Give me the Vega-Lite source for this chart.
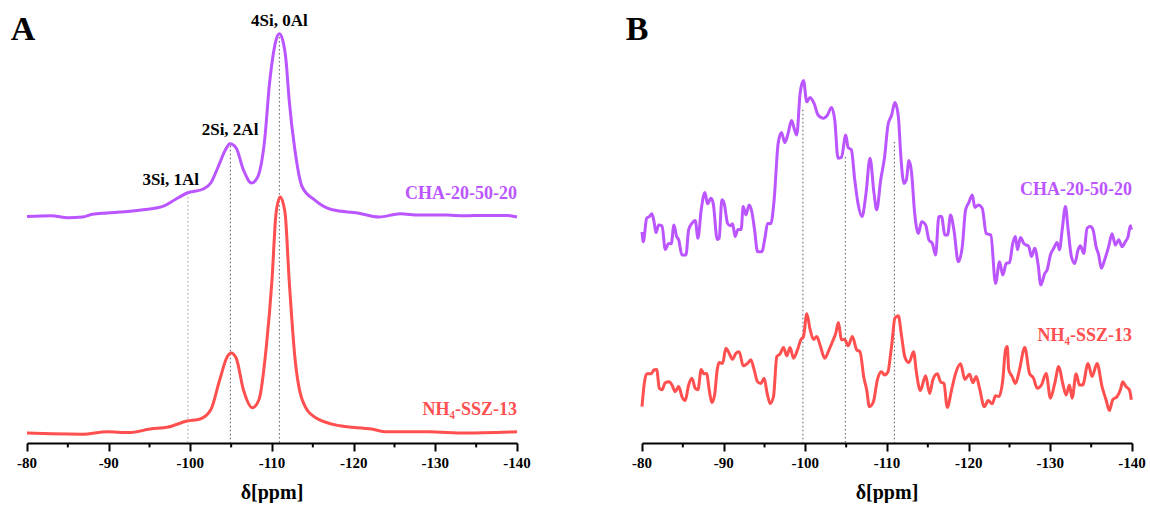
{
  "$schema": "https://vega.github.io/schema/vega-lite/v6.json",
  "padding": {"left": 10, "top": 3, "right": 0, "bottom": 0},
  "spacing": 125,
  "bounds": "flush",
  "config": {
    "view": {"stroke": null},
    "font": "Liberation Serif",
    "axisY": {"disable": true},
    "axis": {"tickWidth": 2, "tickColor": "black", "tickSize": 8, "domainColor": "black", "domainWidth": 2, "grid": false}
  },
  "datasets": {
    "minor": [{"ppm": -85}, {"ppm": -95}, {"ppm": -105}, {"ppm": -115}, {"ppm": -125}, {"ppm": -135}],
    "ticklabels": [{"ppm": -80, "label": "-80"}, {"ppm": -90, "label": "-90"}, {"ppm": -100, "label": "-100"}, {"ppm": -110, "label": "-110"}, {"ppm": -120, "label": "-120"}, {"ppm": -130, "label": "-130"}, {"ppm": -140, "label": "-140"}],
    "axistitle": [{"ppm": -110, "label": "δ[ppm]"}],
    "specA": [
      {"sample":"CHA-20-50-20","ppm":-80,"intensity":56.6},{"sample":"CHA-20-50-20","ppm":-83,"intensity":56.8},{"sample":"CHA-20-50-20","ppm":-85,"intensity":56.3},{"sample":"CHA-20-50-20","ppm":-86.8,"intensity":56.5},{"sample":"CHA-20-50-20","ppm":-88,"intensity":57.2},{"sample":"CHA-20-50-20","ppm":-89.8,"intensity":57.5},{"sample":"CHA-20-50-20","ppm":-92,"intensity":57.8},{"sample":"CHA-20-50-20","ppm":-94.2,"intensity":58.3},{"sample":"CHA-20-50-20","ppm":-96.8,"intensity":59.3},{"sample":"CHA-20-50-20","ppm":-98.1,"intensity":60.8},{"sample":"CHA-20-50-20","ppm":-99.6,"intensity":62.5},{"sample":"CHA-20-50-20","ppm":-101.6,"intensity":63.5},{"sample":"CHA-20-50-20","ppm":-102.5,"intensity":65.0},{"sample":"CHA-20-50-20","ppm":-103.4,"intensity":69.0},{"sample":"CHA-20-50-20","ppm":-104.3,"intensity":73.3},{"sample":"CHA-20-50-20","ppm":-104.85,"intensity":74.8},{"sample":"CHA-20-50-20","ppm":-105.6,"intensity":73.8},{"sample":"CHA-20-50-20","ppm":-106.5,"intensity":68.3},{"sample":"CHA-20-50-20","ppm":-107.5,"intensity":65.0},{"sample":"CHA-20-50-20","ppm":-108.2,"intensity":66.3},{"sample":"CHA-20-50-20","ppm":-109.1,"intensity":75.8},{"sample":"CHA-20-50-20","ppm":-109.7,"intensity":90.0},{"sample":"CHA-20-50-20","ppm":-110.1,"intensity":96.5},{"sample":"CHA-20-50-20","ppm":-110.5,"intensity":100.8},{"sample":"CHA-20-50-20","ppm":-110.9,"intensity":102.3},{"sample":"CHA-20-50-20","ppm":-111.3,"intensity":100.8},{"sample":"CHA-20-50-20","ppm":-111.7,"intensity":96.0},{"sample":"CHA-20-50-20","ppm":-112.1,"intensity":85.8},{"sample":"CHA-20-50-20","ppm":-112.8,"intensity":73.3},{"sample":"CHA-20-50-20","ppm":-113.7,"intensity":64.0},{"sample":"CHA-20-50-20","ppm":-115.2,"intensity":60.8},{"sample":"CHA-20-50-20","ppm":-117.4,"intensity":58.3},{"sample":"CHA-20-50-20","ppm":-120.5,"intensity":57.5},{"sample":"CHA-20-50-20","ppm":-123.1,"intensity":56.5},{"sample":"CHA-20-50-20","ppm":-125.7,"intensity":57.3},{"sample":"CHA-20-50-20","ppm":-128,"intensity":57.0},{"sample":"CHA-20-50-20","ppm":-131.4,"intensity":57.0},{"sample":"CHA-20-50-20","ppm":-133.6,"intensity":56.8},{"sample":"CHA-20-50-20","ppm":-136,"intensity":56.9},{"sample":"CHA-20-50-20","ppm":-138.8,"intensity":56.9},{"sample":"CHA-20-50-20","ppm":-140,"intensity":56.5},
      {"sample":"NH₄-SSZ-13","ppm":-80,"intensity":2.5},{"sample":"NH₄-SSZ-13","ppm":-83,"intensity":2.3},{"sample":"NH₄-SSZ-13","ppm":-86.8,"intensity":2.2},{"sample":"NH₄-SSZ-13","ppm":-89.8,"intensity":2.8},{"sample":"NH₄-SSZ-13","ppm":-92.5,"intensity":2.6},{"sample":"NH₄-SSZ-13","ppm":-95.1,"intensity":3.5},{"sample":"NH₄-SSZ-13","ppm":-97.3,"intensity":4.0},{"sample":"NH₄-SSZ-13","ppm":-99.6,"intensity":5.5},{"sample":"NH₄-SSZ-13","ppm":-101.2,"intensity":6.0},{"sample":"NH₄-SSZ-13","ppm":-102.5,"intensity":8.3},{"sample":"NH₄-SSZ-13","ppm":-103.6,"intensity":15.8},{"sample":"NH₄-SSZ-13","ppm":-104.5,"intensity":21.5},{"sample":"NH₄-SSZ-13","ppm":-105.0,"intensity":22.5},{"sample":"NH₄-SSZ-13","ppm":-105.6,"intensity":21.3},{"sample":"NH₄-SSZ-13","ppm":-106.5,"intensity":13.3},{"sample":"NH₄-SSZ-13","ppm":-107.6,"intensity":8.8},{"sample":"NH₄-SSZ-13","ppm":-108.4,"intensity":10.8},{"sample":"NH₄-SSZ-13","ppm":-109.3,"intensity":24.0},{"sample":"NH₄-SSZ-13","ppm":-110.0,"intensity":40.8},{"sample":"NH₄-SSZ-13","ppm":-110.5,"intensity":57.5},{"sample":"NH₄-SSZ-13","ppm":-111.0,"intensity":61.5},{"sample":"NH₄-SSZ-13","ppm":-111.6,"intensity":57.5},{"sample":"NH₄-SSZ-13","ppm":-112.1,"intensity":40.8},{"sample":"NH₄-SSZ-13","ppm":-112.8,"intensity":21.5},{"sample":"NH₄-SSZ-13","ppm":-113.7,"intensity":10.8},{"sample":"NH₄-SSZ-13","ppm":-115.2,"intensity":6.5},{"sample":"NH₄-SSZ-13","ppm":-118.3,"intensity":4.3},{"sample":"NH₄-SSZ-13","ppm":-122.2,"intensity":3.5},{"sample":"NH₄-SSZ-13","ppm":-124,"intensity":2.8},{"sample":"NH₄-SSZ-13","ppm":-129.2,"intensity":2.8},{"sample":"NH₄-SSZ-13","ppm":-133.6,"intensity":2.5},{"sample":"NH₄-SSZ-13","ppm":-140,"intensity":2.8}
    ],
    "specB": [
      {"sample":"CHA-20-50-20","ppm":-80.00,"intensity":52.8},{"sample":"CHA-20-50-20","ppm":-80.16,"intensity":50.3},{"sample":"CHA-20-50-20","ppm":-80.57,"intensity":56.2},{"sample":"CHA-20-50-20","ppm":-80.89,"intensity":56.6},{"sample":"CHA-20-50-20","ppm":-81.22,"intensity":57.3},{"sample":"CHA-20-50-20","ppm":-81.50,"intensity":55.0},{"sample":"CHA-20-50-20","ppm":-81.71,"intensity":52.6},{"sample":"CHA-20-50-20","ppm":-82.04,"intensity":54.5},{"sample":"CHA-20-50-20","ppm":-82.45,"intensity":54.3},{"sample":"CHA-20-50-20","ppm":-82.85,"intensity":48.4},{"sample":"CHA-20-50-20","ppm":-83.26,"intensity":49.9},{"sample":"CHA-20-50-20","ppm":-83.58,"intensity":49.8},{"sample":"CHA-20-50-20","ppm":-83.91,"intensity":54.5},{"sample":"CHA-20-50-20","ppm":-84.24,"intensity":51.6},{"sample":"CHA-20-50-20","ppm":-84.49,"intensity":50.8},{"sample":"CHA-20-50-20","ppm":-84.89,"intensity":47.0},{"sample":"CHA-20-50-20","ppm":-85.38,"intensity":47.0},{"sample":"CHA-20-50-20","ppm":-85.71,"intensity":53.3},{"sample":"CHA-20-50-20","ppm":-86.11,"intensity":54.9},{"sample":"CHA-20-50-20","ppm":-86.52,"intensity":55.6},{"sample":"CHA-20-50-20","ppm":-86.85,"intensity":51.2},{"sample":"CHA-20-50-20","ppm":-87.25,"intensity":58.3},{"sample":"CHA-20-50-20","ppm":-87.70,"intensity":62.6},{"sample":"CHA-20-50-20","ppm":-88.03,"intensity":59.8},{"sample":"CHA-20-50-20","ppm":-88.44,"intensity":61.2},{"sample":"CHA-20-50-20","ppm":-88.72,"intensity":59.9},{"sample":"CHA-20-50-20","ppm":-89.21,"intensity":50.9},{"sample":"CHA-20-50-20","ppm":-89.45,"intensity":51.2},{"sample":"CHA-20-50-20","ppm":-89.78,"intensity":60.8},{"sample":"CHA-20-50-20","ppm":-90.06,"intensity":59.9},{"sample":"CHA-20-50-20","ppm":-90.48,"intensity":54.9},{"sample":"CHA-20-50-20","ppm":-90.80,"intensity":54.3},{"sample":"CHA-20-50-20","ppm":-91.09,"intensity":54.8},{"sample":"CHA-20-50-20","ppm":-91.41,"intensity":51.6},{"sample":"CHA-20-50-20","ppm":-91.74,"intensity":53.4},{"sample":"CHA-20-50-20","ppm":-92.14,"intensity":53.4},{"sample":"CHA-20-50-20","ppm":-92.39,"intensity":59.1},{"sample":"CHA-20-50-20","ppm":-92.72,"intensity":57.0},{"sample":"CHA-20-50-20","ppm":-93.12,"intensity":59.5},{"sample":"CHA-20-50-20","ppm":-93.45,"intensity":57.8},{"sample":"CHA-20-50-20","ppm":-93.78,"intensity":53.3},{"sample":"CHA-20-50-20","ppm":-94.15,"intensity":47.8},{"sample":"CHA-20-50-20","ppm":-94.67,"intensity":47.8},{"sample":"CHA-20-50-20","ppm":-95.08,"intensity":51.6},{"sample":"CHA-20-50-20","ppm":-95.37,"intensity":54.9},{"sample":"CHA-20-50-20","ppm":-95.77,"intensity":54.8},{"sample":"CHA-20-50-20","ppm":-96.18,"intensity":60.8},{"sample":"CHA-20-50-20","ppm":-96.67,"intensity":74.9},{"sample":"CHA-20-50-20","ppm":-97.08,"intensity":77.6},{"sample":"CHA-20-50-20","ppm":-97.49,"intensity":75.1},{"sample":"CHA-20-50-20","ppm":-97.89,"intensity":77.4},{"sample":"CHA-20-50-20","ppm":-98.31,"intensity":80.6},{"sample":"CHA-20-50-20","ppm":-98.62,"intensity":78.7},{"sample":"CHA-20-50-20","ppm":-98.95,"intensity":77.0},{"sample":"CHA-20-50-20","ppm":-99.36,"intensity":87.4},{"sample":"CHA-20-50-20","ppm":-99.77,"intensity":90.6},{"sample":"CHA-20-50-20","ppm":-100.18,"intensity":85.3},{"sample":"CHA-20-50-20","ppm":-100.58,"intensity":86.4},{"sample":"CHA-20-50-20","ppm":-101.07,"intensity":84.9},{"sample":"CHA-20-50-20","ppm":-101.56,"intensity":82.0},{"sample":"CHA-20-50-20","ppm":-102.22,"intensity":81.2},{"sample":"CHA-20-50-20","ppm":-102.71,"intensity":82.0},{"sample":"CHA-20-50-20","ppm":-103.20,"intensity":83.9},{"sample":"CHA-20-50-20","ppm":-103.60,"intensity":80.8},{"sample":"CHA-20-50-20","ppm":-104.00,"intensity":71.2},{"sample":"CHA-20-50-20","ppm":-104.42,"intensity":71.4},{"sample":"CHA-20-50-20","ppm":-104.95,"intensity":77.0},{"sample":"CHA-20-50-20","ppm":-105.23,"intensity":73.9},{"sample":"CHA-20-50-20","ppm":-105.64,"intensity":73.3},{"sample":"CHA-20-50-20","ppm":-106.05,"intensity":65.8},{"sample":"CHA-20-50-20","ppm":-106.45,"intensity":59.9},{"sample":"CHA-20-50-20","ppm":-106.94,"intensity":56.6},{"sample":"CHA-20-50-20","ppm":-107.43,"intensity":62.4},{"sample":"CHA-20-50-20","ppm":-107.92,"intensity":71.2},{"sample":"CHA-20-50-20","ppm":-108.41,"intensity":62.4},{"sample":"CHA-20-50-20","ppm":-108.74,"intensity":58.3},{"sample":"CHA-20-50-20","ppm":-109.23,"intensity":65.8},{"sample":"CHA-20-50-20","ppm":-109.71,"intensity":71.6},{"sample":"CHA-20-50-20","ppm":-110.12,"intensity":79.5},{"sample":"CHA-20-50-20","ppm":-110.57,"intensity":82.0},{"sample":"CHA-20-50-20","ppm":-110.97,"intensity":85.1},{"sample":"CHA-20-50-20","ppm":-111.39,"intensity":81.6},{"sample":"CHA-20-50-20","ppm":-111.67,"intensity":72.4},{"sample":"CHA-20-50-20","ppm":-112.07,"intensity":64.9},{"sample":"CHA-20-50-20","ppm":-112.37,"intensity":65.8},{"sample":"CHA-20-50-20","ppm":-112.69,"intensity":70.6},{"sample":"CHA-20-50-20","ppm":-113.02,"intensity":67.4},{"sample":"CHA-20-50-20","ppm":-113.35,"intensity":58.3},{"sample":"CHA-20-50-20","ppm":-113.84,"intensity":52.4},{"sample":"CHA-20-50-20","ppm":-114.24,"intensity":55.3},{"sample":"CHA-20-50-20","ppm":-114.73,"intensity":54.5},{"sample":"CHA-20-50-20","ppm":-115.13,"intensity":50.8},{"sample":"CHA-20-50-20","ppm":-115.55,"intensity":49.9},{"sample":"CHA-20-50-20","ppm":-115.95,"intensity":47.0},{"sample":"CHA-20-50-20","ppm":-116.35,"intensity":56.6},{"sample":"CHA-20-50-20","ppm":-116.68,"intensity":56.6},{"sample":"CHA-20-50-20","ppm":-117.09,"intensity":52.0},{"sample":"CHA-20-50-20","ppm":-117.42,"intensity":52.0},{"sample":"CHA-20-50-20","ppm":-117.78,"intensity":57.0},{"sample":"CHA-20-50-20","ppm":-118.19,"intensity":53.3},{"sample":"CHA-20-50-20","ppm":-118.73,"intensity":45.3},{"sample":"CHA-20-50-20","ppm":-119.22,"intensity":49.1},{"sample":"CHA-20-50-20","ppm":-119.62,"intensity":58.3},{"sample":"CHA-20-50-20","ppm":-120.02,"intensity":60.1},{"sample":"CHA-20-50-20","ppm":-120.44,"intensity":62.0},{"sample":"CHA-20-50-20","ppm":-120.76,"intensity":58.9},{"sample":"CHA-20-50-20","ppm":-121.17,"intensity":59.5},{"sample":"CHA-20-50-20","ppm":-121.66,"intensity":58.7},{"sample":"CHA-20-50-20","ppm":-122.15,"intensity":52.4},{"sample":"CHA-20-50-20","ppm":-122.71,"intensity":52.0},{"sample":"CHA-20-50-20","ppm":-123.29,"intensity":39.9},{"sample":"CHA-20-50-20","ppm":-123.78,"intensity":45.3},{"sample":"CHA-20-50-20","ppm":-124.18,"intensity":42.0},{"sample":"CHA-20-50-20","ppm":-124.60,"intensity":44.9},{"sample":"CHA-20-50-20","ppm":-125.00,"intensity":45.1},{"sample":"CHA-20-50-20","ppm":-125.40,"intensity":49.9},{"sample":"CHA-20-50-20","ppm":-125.73,"intensity":51.6},{"sample":"CHA-20-50-20","ppm":-125.98,"intensity":48.3},{"sample":"CHA-20-50-20","ppm":-126.34,"intensity":51.4},{"sample":"CHA-20-50-20","ppm":-126.75,"intensity":49.9},{"sample":"CHA-20-50-20","ppm":-127.36,"intensity":49.1},{"sample":"CHA-20-50-20","ppm":-127.69,"intensity":46.6},{"sample":"CHA-20-50-20","ppm":-128.09,"intensity":48.7},{"sample":"CHA-20-50-20","ppm":-128.51,"intensity":44.5},{"sample":"CHA-20-50-20","ppm":-128.83,"intensity":39.5},{"sample":"CHA-20-50-20","ppm":-129.32,"intensity":42.4},{"sample":"CHA-20-50-20","ppm":-129.61,"intensity":43.3},{"sample":"CHA-20-50-20","ppm":-130.01,"intensity":47.0},{"sample":"CHA-20-50-20","ppm":-130.42,"intensity":48.7},{"sample":"CHA-20-50-20","ppm":-130.83,"intensity":50.1},{"sample":"CHA-20-50-20","ppm":-131.12,"intensity":48.3},{"sample":"CHA-20-50-20","ppm":-131.45,"intensity":53.3},{"sample":"CHA-20-50-20","ppm":-131.85,"intensity":59.1},{"sample":"CHA-20-50-20","ppm":-132.18,"intensity":53.3},{"sample":"CHA-20-50-20","ppm":-132.58,"intensity":46.6},{"sample":"CHA-20-50-20","ppm":-132.99,"intensity":44.9},{"sample":"CHA-20-50-20","ppm":-133.40,"intensity":48.3},{"sample":"CHA-20-50-20","ppm":-133.68,"intensity":49.3},{"sample":"CHA-20-50-20","ppm":-134.09,"intensity":47.4},{"sample":"CHA-20-50-20","ppm":-134.50,"intensity":53.7},{"sample":"CHA-20-50-20","ppm":-134.90,"intensity":54.1},{"sample":"CHA-20-50-20","ppm":-135.23,"intensity":53.3},{"sample":"CHA-20-50-20","ppm":-135.60,"intensity":49.1},{"sample":"CHA-20-50-20","ppm":-135.92,"intensity":47.0},{"sample":"CHA-20-50-20","ppm":-136.25,"intensity":43.7},{"sample":"CHA-20-50-20","ppm":-136.65,"intensity":45.8},{"sample":"CHA-20-50-20","ppm":-137.14,"intensity":49.1},{"sample":"CHA-20-50-20","ppm":-137.56,"intensity":52.3},{"sample":"CHA-20-50-20","ppm":-137.96,"intensity":49.5},{"sample":"CHA-20-50-20","ppm":-138.37,"intensity":50.8},{"sample":"CHA-20-50-20","ppm":-138.78,"intensity":49.1},{"sample":"CHA-20-50-20","ppm":-139.18,"intensity":50.3},{"sample":"CHA-20-50-20","ppm":-139.52,"intensity":51.6},{"sample":"CHA-20-50-20","ppm":-139.80,"intensity":54.3},{"sample":"CHA-20-50-20","ppm":-139.92,"intensity":53.3},
      {"sample":"NH₄-SSZ-13","ppm":-80.00,"intensity":9.1},{"sample":"NH₄-SSZ-13","ppm":-80.28,"intensity":14.9},{"sample":"NH₄-SSZ-13","ppm":-80.57,"intensity":17.3},{"sample":"NH₄-SSZ-13","ppm":-81.10,"intensity":17.3},{"sample":"NH₄-SSZ-13","ppm":-81.50,"intensity":18.3},{"sample":"NH₄-SSZ-13","ppm":-81.80,"intensity":18.4},{"sample":"NH₄-SSZ-13","ppm":-82.12,"intensity":13.7},{"sample":"NH₄-SSZ-13","ppm":-82.45,"intensity":13.3},{"sample":"NH₄-SSZ-13","ppm":-82.85,"intensity":15.1},{"sample":"NH₄-SSZ-13","ppm":-83.34,"intensity":15.3},{"sample":"NH₄-SSZ-13","ppm":-83.67,"intensity":14.5},{"sample":"NH₄-SSZ-13","ppm":-84.07,"intensity":12.8},{"sample":"NH₄-SSZ-13","ppm":-84.49,"intensity":14.1},{"sample":"NH₄-SSZ-13","ppm":-84.89,"intensity":11.6},{"sample":"NH₄-SSZ-13","ppm":-85.29,"intensity":10.6},{"sample":"NH₄-SSZ-13","ppm":-85.71,"intensity":14.5},{"sample":"NH₄-SSZ-13","ppm":-86.11,"intensity":16.2},{"sample":"NH₄-SSZ-13","ppm":-86.52,"intensity":13.7},{"sample":"NH₄-SSZ-13","ppm":-86.85,"intensity":13.3},{"sample":"NH₄-SSZ-13","ppm":-87.25,"intensity":18.4},{"sample":"NH₄-SSZ-13","ppm":-87.58,"intensity":17.3},{"sample":"NH₄-SSZ-13","ppm":-87.91,"intensity":17.4},{"sample":"NH₄-SSZ-13","ppm":-88.23,"intensity":13.3},{"sample":"NH₄-SSZ-13","ppm":-88.56,"intensity":10.1},{"sample":"NH₄-SSZ-13","ppm":-88.89,"intensity":12.0},{"sample":"NH₄-SSZ-13","ppm":-89.21,"intensity":18.3},{"sample":"NH₄-SSZ-13","ppm":-89.45,"intensity":20.1},{"sample":"NH₄-SSZ-13","ppm":-89.87,"intensity":19.9},{"sample":"NH₄-SSZ-13","ppm":-90.27,"intensity":23.7},{"sample":"NH₄-SSZ-13","ppm":-90.68,"intensity":22.4},{"sample":"NH₄-SSZ-13","ppm":-91.09,"intensity":20.9},{"sample":"NH₄-SSZ-13","ppm":-91.49,"intensity":22.4},{"sample":"NH₄-SSZ-13","ppm":-91.90,"intensity":22.8},{"sample":"NH₄-SSZ-13","ppm":-92.39,"intensity":19.3},{"sample":"NH₄-SSZ-13","ppm":-92.93,"intensity":19.9},{"sample":"NH₄-SSZ-13","ppm":-93.33,"intensity":20.8},{"sample":"NH₄-SSZ-13","ppm":-93.73,"intensity":18.3},{"sample":"NH₄-SSZ-13","ppm":-94.15,"intensity":15.3},{"sample":"NH₄-SSZ-13","ppm":-94.55,"intensity":14.9},{"sample":"NH₄-SSZ-13","ppm":-94.96,"intensity":16.2},{"sample":"NH₄-SSZ-13","ppm":-95.29,"intensity":12.8},{"sample":"NH₄-SSZ-13","ppm":-95.69,"intensity":9.9},{"sample":"NH₄-SSZ-13","ppm":-96.10,"intensity":11.6},{"sample":"NH₄-SSZ-13","ppm":-96.51,"intensity":21.6},{"sample":"NH₄-SSZ-13","ppm":-96.91,"intensity":22.3},{"sample":"NH₄-SSZ-13","ppm":-97.33,"intensity":23.9},{"sample":"NH₄-SSZ-13","ppm":-97.73,"intensity":21.8},{"sample":"NH₄-SSZ-13","ppm":-98.13,"intensity":23.9},{"sample":"NH₄-SSZ-13","ppm":-98.55,"intensity":21.2},{"sample":"NH₄-SSZ-13","ppm":-99.04,"intensity":23.3},{"sample":"NH₄-SSZ-13","ppm":-99.44,"intensity":25.8},{"sample":"NH₄-SSZ-13","ppm":-99.77,"intensity":26.6},{"sample":"NH₄-SSZ-13","ppm":-100.18,"intensity":32.3},{"sample":"NH₄-SSZ-13","ppm":-100.58,"intensity":28.4},{"sample":"NH₄-SSZ-13","ppm":-101.00,"intensity":25.9},{"sample":"NH₄-SSZ-13","ppm":-101.40,"intensity":26.6},{"sample":"NH₄-SSZ-13","ppm":-101.80,"intensity":24.5},{"sample":"NH₄-SSZ-13","ppm":-102.38,"intensity":21.2},{"sample":"NH₄-SSZ-13","ppm":-102.90,"intensity":23.3},{"sample":"NH₄-SSZ-13","ppm":-103.32,"intensity":25.3},{"sample":"NH₄-SSZ-13","ppm":-103.72,"intensity":27.4},{"sample":"NH₄-SSZ-13","ppm":-104.05,"intensity":30.1},{"sample":"NH₄-SSZ-13","ppm":-104.42,"intensity":25.8},{"sample":"NH₄-SSZ-13","ppm":-104.82,"intensity":25.9},{"sample":"NH₄-SSZ-13","ppm":-105.23,"intensity":24.3},{"sample":"NH₄-SSZ-13","ppm":-105.76,"intensity":26.6},{"sample":"NH₄-SSZ-13","ppm":-106.29,"intensity":23.3},{"sample":"NH₄-SSZ-13","ppm":-106.69,"intensity":22.8},{"sample":"NH₄-SSZ-13","ppm":-107.18,"intensity":16.2},{"sample":"NH₄-SSZ-13","ppm":-107.51,"intensity":13.3},{"sample":"NH₄-SSZ-13","ppm":-107.84,"intensity":9.1},{"sample":"NH₄-SSZ-13","ppm":-108.33,"intensity":10.3},{"sample":"NH₄-SSZ-13","ppm":-108.82,"intensity":15.8},{"sample":"NH₄-SSZ-13","ppm":-109.31,"intensity":17.8},{"sample":"NH₄-SSZ-13","ppm":-109.71,"intensity":17.0},{"sample":"NH₄-SSZ-13","ppm":-110.12,"intensity":17.8},{"sample":"NH₄-SSZ-13","ppm":-110.45,"intensity":22.4},{"sample":"NH₄-SSZ-13","ppm":-110.60,"intensity":24.9},{"sample":"NH₄-SSZ-13","ppm":-110.97,"intensity":31.2},{"sample":"NH₄-SSZ-13","ppm":-111.39,"intensity":31.8},{"sample":"NH₄-SSZ-13","ppm":-111.79,"intensity":26.6},{"sample":"NH₄-SSZ-13","ppm":-112.20,"intensity":21.4},{"sample":"NH₄-SSZ-13","ppm":-112.69,"intensity":20.1},{"sample":"NH₄-SSZ-13","ppm":-113.26,"intensity":22.8},{"sample":"NH₄-SSZ-13","ppm":-113.59,"intensity":17.8},{"sample":"NH₄-SSZ-13","ppm":-114.08,"intensity":13.1},{"sample":"NH₄-SSZ-13","ppm":-114.73,"intensity":16.8},{"sample":"NH₄-SSZ-13","ppm":-115.22,"intensity":12.4},{"sample":"NH₄-SSZ-13","ppm":-115.62,"intensity":15.8},{"sample":"NH₄-SSZ-13","ppm":-116.16,"intensity":17.3},{"sample":"NH₄-SSZ-13","ppm":-116.56,"intensity":15.3},{"sample":"NH₄-SSZ-13","ppm":-116.97,"intensity":14.9},{"sample":"NH₄-SSZ-13","ppm":-117.38,"intensity":8.9},{"sample":"NH₄-SSZ-13","ppm":-117.91,"intensity":13.3},{"sample":"NH₄-SSZ-13","ppm":-118.40,"intensity":17.4},{"sample":"NH₄-SSZ-13","ppm":-119.01,"intensity":19.8},{"sample":"NH₄-SSZ-13","ppm":-119.53,"intensity":15.9},{"sample":"NH₄-SSZ-13","ppm":-120.11,"intensity":17.2},{"sample":"NH₄-SSZ-13","ppm":-120.51,"intensity":15.1},{"sample":"NH₄-SSZ-13","ppm":-120.93,"intensity":16.6},{"sample":"NH₄-SSZ-13","ppm":-121.33,"intensity":13.7},{"sample":"NH₄-SSZ-13","ppm":-121.91,"intensity":9.1},{"sample":"NH₄-SSZ-13","ppm":-122.40,"intensity":10.6},{"sample":"NH₄-SSZ-13","ppm":-122.88,"intensity":9.8},{"sample":"NH₄-SSZ-13","ppm":-123.29,"intensity":11.8},{"sample":"NH₄-SSZ-13","ppm":-123.69,"intensity":11.6},{"sample":"NH₄-SSZ-13","ppm":-124.18,"intensity":15.8},{"sample":"NH₄-SSZ-13","ppm":-124.51,"intensity":23.3},{"sample":"NH₄-SSZ-13","ppm":-124.72,"intensity":24.1},{"sample":"NH₄-SSZ-13","ppm":-124.91,"intensity":18.3},{"sample":"NH₄-SSZ-13","ppm":-125.33,"intensity":16.6},{"sample":"NH₄-SSZ-13","ppm":-125.73,"intensity":14.9},{"sample":"NH₄-SSZ-13","ppm":-126.22,"intensity":18.3},{"sample":"NH₄-SSZ-13","ppm":-126.87,"intensity":23.9},{"sample":"NH₄-SSZ-13","ppm":-127.45,"intensity":17.4},{"sample":"NH₄-SSZ-13","ppm":-127.94,"intensity":16.2},{"sample":"NH₄-SSZ-13","ppm":-128.39,"intensity":13.7},{"sample":"NH₄-SSZ-13","ppm":-128.91,"intensity":14.5},{"sample":"NH₄-SSZ-13","ppm":-129.49,"intensity":17.4},{"sample":"NH₄-SSZ-13","ppm":-130.01,"intensity":11.2},{"sample":"NH₄-SSZ-13","ppm":-130.54,"intensity":14.9},{"sample":"NH₄-SSZ-13","ppm":-131.03,"intensity":19.1},{"sample":"NH₄-SSZ-13","ppm":-131.52,"intensity":14.9},{"sample":"NH₄-SSZ-13","ppm":-131.93,"intensity":12.0},{"sample":"NH₄-SSZ-13","ppm":-132.34,"intensity":14.5},{"sample":"NH₄-SSZ-13","ppm":-132.67,"intensity":11.2},{"sample":"NH₄-SSZ-13","ppm":-133.16,"intensity":17.3},{"sample":"NH₄-SSZ-13","ppm":-133.56,"intensity":14.5},{"sample":"NH₄-SSZ-13","ppm":-133.96,"intensity":14.5},{"sample":"NH₄-SSZ-13","ppm":-134.62,"intensity":19.9},{"sample":"NH₄-SSZ-13","ppm":-135.11,"intensity":16.6},{"sample":"NH₄-SSZ-13","ppm":-135.72,"intensity":19.9},{"sample":"NH₄-SSZ-13","ppm":-136.33,"intensity":14.1},{"sample":"NH₄-SSZ-13","ppm":-136.82,"intensity":10.8},{"sample":"NH₄-SSZ-13","ppm":-137.23,"intensity":8.1},{"sample":"NH₄-SSZ-13","ppm":-137.63,"intensity":10.8},{"sample":"NH₄-SSZ-13","ppm":-138.17,"intensity":11.6},{"sample":"NH₄-SSZ-13","ppm":-138.58,"intensity":13.3},{"sample":"NH₄-SSZ-13","ppm":-138.86,"intensity":15.3},{"sample":"NH₄-SSZ-13","ppm":-139.27,"intensity":14.1},{"sample":"NH₄-SSZ-13","ppm":-139.68,"intensity":13.3},{"sample":"NH₄-SSZ-13","ppm":-139.92,"intensity":10.8}
    ],
    "guidesA": [{"ppm": -99.7, "top": 62.5, "shade": "light"}, {"ppm": -104.9, "top": 74.3, "shade": "dark"}, {"ppm": -110.9, "top": 101.5, "shade": "dark"}],
    "guidesB": [{"ppm": -99.7, "top": 83.3, "shade": "dark"}, {"ppm": -104.9, "top": 71.5, "shade": "dark"}, {"ppm": -110.9, "top": 75.3, "shade": "dark"}],
    "peaksA": [{"text": "3Si, 1Al", "ppm": -97.6, "y": 65.8}, {"text": "2Si, 2Al", "ppm": -104.86, "y": 78.3}, {"text": "4Si, 0Al", "ppm": -110.9, "y": 105.5}],
    "namesA": [{"sample": "CHA-20-50-20", "ppm": -140, "y": 62.3}, {"sample": "NH₄-SSZ-13", "ppm": -140, "y": 8.3}],
    "namesB": [{"sample": "CHA-20-50-20", "ppm": -140, "y": 63.3}, {"sample": "NH₄-SSZ-13", "ppm": -140, "y": 26.8}],
    "letterA": [{"text": "A", "ppm": -79.51, "y": 103.3}],
    "letterB": [{"text": "B", "ppm": -79.39, "y": 103.3}]
  },
  "hconcat": [
    {
      "width": 490, "height": 440,
      "encoding": {
        "x": {"field": "ppm", "type": "quantitative", "scale": {"domain": [-80, -140], "nice": false, "zero": false},
          "axis": {"title": null, "labels": false, "values": [-80, -90, -100, -110, -120, -130, -140]}}
      },
      "layer": [
        {"data": {"name": "guidesA"}, "mark": {"type": "rule", "strokeDash": [1.5, 2.5], "strokeWidth": 1},
         "encoding": {"y": {"field": "top", "type": "quantitative", "scale": {"domain": [0, 110]}}, "y2": {"datum": 0},
           "color": {"field": "shade", "type": "nominal", "scale": {"domain": ["light", "dark"], "range": ["#9a9a9a", "#555555"]}, "legend": null}}},
        {"data": {"name": "minor"}, "mark": {"type": "rule", "strokeWidth": 2, "color": "black"},
         "encoding": {"y": {"datum": 0}, "y2": {"datum": -1.1}}},
        {"data": {"name": "ticklabels"}, "mark": {"type": "text", "fontSize": 15, "fontWeight": "bold", "color": "black", "baseline": "middle"},
         "encoding": {"y": {"datum": -5}, "text": {"field": "label", "type": "nominal"}}},
        {"data": {"name": "axistitle"}, "mark": {"type": "text", "fontSize": 20, "fontWeight": "bold", "color": "black", "baseline": "middle"},
         "encoding": {"y": {"datum": -12.5}, "text": {"field": "label", "type": "nominal"}}},
        {"data": {"name": "specA"}, "mark": {"type": "line", "strokeWidth": 3, "interpolate": "monotone"},
         "encoding": {
           "y": {"field": "intensity", "type": "quantitative"},
           "stroke": {"field": "sample", "type": "nominal", "scale": {"domain": ["CHA-20-50-20", "NH₄-SSZ-13"], "range": ["#BB55FF", "#FF4F4F"]}, "legend": null}}},
        {"data": {"name": "peaksA"}, "mark": {"type": "text", "fontSize": 17, "fontWeight": "bold", "color": "black", "baseline": "middle"},
         "encoding": {"y": {"field": "y", "type": "quantitative"}, "text": {"field": "text", "type": "nominal"}}},
        {"data": {"name": "namesA"}, "mark": {"type": "text", "fontSize": 18, "fontWeight": "bold", "align": "right", "baseline": "middle"},
         "encoding": {"y": {"field": "y", "type": "quantitative"}, "text": {"field": "sample", "type": "nominal"},
           "fill": {"field": "sample", "type": "nominal", "scale": {"domain": ["CHA-20-50-20", "NH₄-SSZ-13"], "range": ["#BB55FF", "#FF4F4F"]}, "legend": null}}},
        {"data": {"name": "letterA"}, "mark": {"type": "text", "fontSize": 34, "fontWeight": "bold", "color": "black", "baseline": "middle"},
         "encoding": {"y": {"field": "y", "type": "quantitative"}, "text": {"field": "text", "type": "nominal"}}}
      ]
    },
    {
      "width": 490, "height": 440,
      "encoding": {
        "x": {"field": "ppm", "type": "quantitative", "scale": {"domain": [-80, -140], "nice": false, "zero": false},
          "axis": {"title": null, "labels": false, "values": [-80, -90, -100, -110, -120, -130, -140]}}
      },
      "layer": [
        {"data": {"name": "guidesB"}, "mark": {"type": "rule", "strokeDash": [1.5, 2.5], "strokeWidth": 1},
         "encoding": {"y": {"field": "top", "type": "quantitative", "scale": {"domain": [0, 110]}}, "y2": {"datum": 0},
           "color": {"field": "shade", "type": "nominal", "scale": {"domain": ["light", "dark"], "range": ["#9a9a9a", "#555555"]}, "legend": null}}},
        {"data": {"name": "minor"}, "mark": {"type": "rule", "strokeWidth": 2, "color": "black"},
         "encoding": {"y": {"datum": 0}, "y2": {"datum": -1.1}}},
        {"data": {"name": "ticklabels"}, "mark": {"type": "text", "fontSize": 15, "fontWeight": "bold", "color": "black", "baseline": "middle"},
         "encoding": {"y": {"datum": -5}, "text": {"field": "label", "type": "nominal"}}},
        {"data": {"name": "axistitle"}, "mark": {"type": "text", "fontSize": 20, "fontWeight": "bold", "color": "black", "baseline": "middle"},
         "encoding": {"y": {"datum": -12.5}, "text": {"field": "label", "type": "nominal"}}},
        {"data": {"name": "specB"}, "mark": {"type": "line", "strokeWidth": 3, "interpolate": "monotone"},
         "encoding": {
           "y": {"field": "intensity", "type": "quantitative"},
           "stroke": {"field": "sample", "type": "nominal", "scale": {"domain": ["CHA-20-50-20", "NH₄-SSZ-13"], "range": ["#BB55FF", "#FF4F4F"]}, "legend": null}}},
        {"data": {"name": "namesB"}, "mark": {"type": "text", "fontSize": 18, "fontWeight": "bold", "align": "right", "baseline": "middle"},
         "encoding": {"y": {"field": "y", "type": "quantitative"}, "text": {"field": "sample", "type": "nominal"},
           "fill": {"field": "sample", "type": "nominal", "scale": {"domain": ["CHA-20-50-20", "NH₄-SSZ-13"], "range": ["#BB55FF", "#FF4F4F"]}, "legend": null}}},
        {"data": {"name": "letterB"}, "mark": {"type": "text", "fontSize": 34, "fontWeight": "bold", "color": "black", "baseline": "middle"},
         "encoding": {"y": {"field": "y", "type": "quantitative"}, "text": {"field": "text", "type": "nominal"}}}
      ]
    }
  ]
}
